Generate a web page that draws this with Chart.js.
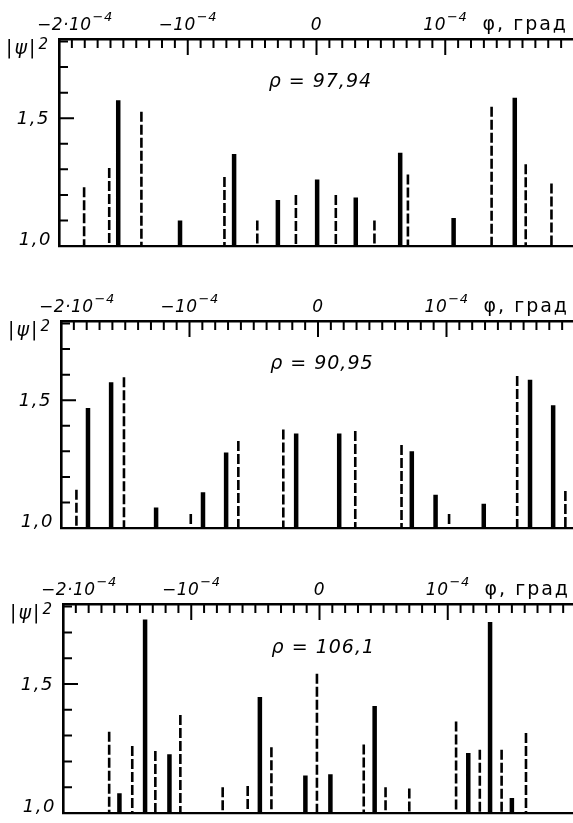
<!DOCTYPE html>
<html>
<head>
<meta charset="utf-8">
<script src="https://cdn.jsdelivr.net/npm/chart.js@4.4.1/dist/chart.umd.min.js"></script>
<style>
  html, body { margin: 0; padding: 0; background: #fff; overflow: hidden; width: 573px; height: 823px; }
  canvas { position: absolute; left: 0; }
</style>
</head>
<body>
<canvas id="c1" width="600" height="275" style="top:0"></canvas>
<canvas id="c2" width="600" height="280" style="top:275px"></canvas>
<canvas id="c3" width="600" height="268" style="top:555px"></canvas>
<script>
// angle in units of 1e-5 degree, intensity |psi|^2
var solid1Pos = [-15.4, -10.6, -6.4, -3.0, 0.05, 3.05, 6.5, 10.65, 15.4];
var solid1Val = [1.57, 1.10, 1.36, 1.18, 1.26, 1.19, 1.365, 1.11, 1.58];
var dash1Pos  = [-18.05, -16.1, -13.6, -7.15, -4.6, -1.6, 1.5, 4.5, 7.1, 13.6, 16.25, 18.25];
var dash1Val  = [1.23, 1.305, 1.525, 1.27, 1.10, 1.20, 1.20, 1.10, 1.28, 1.545, 1.32, 1.245];

var solid2Pos = [-17.9, -16.1, -12.6, -8.95, -7.15, -1.7, 1.65, 7.3, 9.15, 12.9, 16.5, 18.3];
var solid2Val = [1.47, 1.57, 1.08, 1.14, 1.295, 1.37, 1.37, 1.30, 1.13, 1.095, 1.58, 1.48];
var dash2Pos  = [-18.8, -15.1, -9.9, -6.2, -2.7, 2.9, 6.5, 10.2, 15.5, 19.25];
var dash2Val  = [1.15, 1.59, 1.055, 1.34, 1.385, 1.38, 1.325, 1.055, 1.595, 1.145];

var solid3Pos = [-15.6, -13.6, -11.7, -4.65, -1.1, 0.85, 4.3, 11.6, 13.3, 15.0];
var solid3Val = [1.077, 1.75, 1.228, 1.45, 1.145, 1.15, 1.415, 1.233, 1.74, 1.058];
var dash3Pos  = [-16.4, -14.6, -12.8, -10.85, -7.55, -5.6, -3.75, -0.2, 3.45, 5.15, 7.0, 10.65, 12.5, 14.2, 16.1];
var dash3Val  = [1.315, 1.26, 1.24, 1.38, 1.10, 1.105, 1.255, 1.54, 1.265, 1.10, 1.095, 1.355, 1.245, 1.245, 1.31];

var rhoLabels = ['ρ = 97,94', 'ρ = 90,95', 'ρ = 106,1'];

var xLabelValues = [-20, -10, 0, 10];
var xLabelBase   = ['−2·10', '−10', '0', '10'];
var xLabelSup    = ['−4', '−4', '', '−4'];
var yLabelValues = [1.0, 1.5];
var yLabels      = ['1,0', '1,5'];
var xUnit = 'φ, град';
var yTitleBase = '|ψ|', yTitleSup = '2';

var BASE = 1.0;

// each stem goes from the value down to the baseline, then a gap
function stems(pos, val) {
    var pts = [];
    pos.forEach(function(p, i) {
        pts.push({x: p, y: val[i]});
        pts.push({x: p, y: BASE});
        pts.push({x: p, y: null});
    });
    return pts;
}

function supText(ctx, base, sup, x, y, align, size, spacing, raise) {
    var bf = 'italic ' + size + 'px "DejaVu Sans"';
    var sf = 'italic ' + Math.round(size * 0.78) + 'px "DejaVu Sans"';
    ctx.letterSpacing = (spacing || 0) + 'px';
    ctx.font = bf;
    var wb = ctx.measureText(base).width;
    ctx.font = sf;
    var ws = sup ? ctx.measureText(sup).width + 1 : 0;
    var x0 = align === 'left' ? x : (align === 'right' ? x - wb - ws : x - (wb + ws) / 2);
    ctx.textAlign = 'left';
    ctx.textBaseline = 'alphabetic';
    ctx.font = bf;
    ctx.fillText(base, x0, y);
    if (sup) {
        ctx.font = sf;
        ctx.fillText(sup, x0 + wb + 1, y - size * (raise || 0.55));
    }
    ctx.letterSpacing = '0px';
}

var gostAxes = {
    id: 'gostAxes',
    afterDraw: function(chart, args, opts) {
        var ctx = chart.ctx, a = chart.chartArea;
        var x = chart.scales.x, y = chart.scales.y;
        ctx.save();
        ctx.strokeStyle = '#000';
        ctx.fillStyle = '#000';

        // tick marks point into the plot
        ctx.lineWidth = 2;
        ctx.beginPath();
        x.ticks.forEach(function(t) {
            if (t.value <= x.min) return;
            var px = x.getPixelForValue(t.value);
            var len = (t.value % 10 === 0) ? 16 : 9;
            ctx.moveTo(px, a.top);
            ctx.lineTo(px, a.top + len);
        });
        y.ticks.forEach(function(t) {
            if (t.value <= y.min + 1e-9) return;
            var py = y.getPixelForValue(t.value);
            var len = (Math.abs(t.value - 1.5) < 1e-9) ? 15 : 9;
            ctx.moveTo(a.left, py);
            ctx.lineTo(a.left + len, py);
        });
        ctx.stroke();

        // top tick labels
        xLabelValues.forEach(function(v, i) {
            var px = x.getPixelForValue(v);
            if (i === 0) {
                supText(ctx, xLabelBase[i], xLabelSup[i], a.left - 22, a.top - 9, 'left', 17, 0.5);
            } else {
                supText(ctx, xLabelBase[i], xLabelSup[i], px, a.top - 9, 'center', 17, 0.5);
            }
        });
        ctx.font = '19px "DejaVu Sans"';
        ctx.letterSpacing = '2px';
        ctx.textAlign = 'right';
        ctx.textBaseline = 'alphabetic';
        ctx.fillText(xUnit, a.right - 6, a.top - 9);
        ctx.letterSpacing = '0px';

        // left tick labels
        yLabelValues.forEach(function(v, i) {
            var py = y.getPixelForValue(v);
            var dy = (v === BASE) ? -1 : 6;
            var dx = (v === BASE) ? 7 : 9;
            ctx.font = 'italic 18px "DejaVu Sans"';
            ctx.letterSpacing = '1.5px';
            ctx.textAlign = 'right';
            ctx.textBaseline = 'alphabetic';
            ctx.fillText(yLabels[i], a.left - dx, py + dy);
            ctx.letterSpacing = '0px';
        });

        // axis title
        supText(ctx, yTitleBase, yTitleSup, a.left - 9, a.top + 15, 'right', 19, 2, 0.28);

        // parameter label
        ctx.font = 'italic 19px "DejaVu Sans"';
        ctx.letterSpacing = '1px';
        ctx.textAlign = 'center';
        ctx.textBaseline = 'middle';
        ctx.fillText(opts.rho, x.getPixelForValue(0.3), y.getPixelForValue(1.64));
        ctx.letterSpacing = '0px';
        ctx.restore();
    }
};

function makePanel(id, pad, solidPos, solidVal, dashPos, dashVal, rho) {
    var ctx = document.getElementById(id).getContext('2d');
    return new Chart(ctx, {
        type: 'line',
        data: {
            datasets: [
                {
                    label: 'solid',
                    data: stems(solidPos, solidVal),
                    xAxisID: 'x', yAxisID: 'y',
                    borderColor: '#000',
                    borderWidth: 4.5,
                    borderCapStyle: 'butt',
                    pointRadius: 0,
                    spanGaps: false
                },
                {
                    label: 'dashed',
                    data: stems(dashPos, dashVal),
                    xAxisID: 'x', yAxisID: 'y',
                    borderColor: '#000',
                    borderWidth: 2.6,
                    borderDash: [10, 3],
                    borderCapStyle: 'butt',
                    pointRadius: 0,
                    spanGaps: false
                }
            ]
        },
        options: {
            responsive: false,
            animation: false,
            events: [],
            layout: { padding: pad },
            plugins: {
                legend: { display: false },
                tooltip: { enabled: false },
                gostAxes: { rho: rho }
            },
            scales: {
                x: {
                    type: 'linear', axis: 'x', position: 'top',
                    min: -20, max: 20,
                    afterBuildTicks: function(s) {
                        var t = [];
                        for (var v = -20; v <= 20; v++) t.push({value: v});
                        s.ticks = t;
                    },
                    grid: { display: false, drawTicks: false },
                    ticks: { display: false },
                    border: { display: true, width: 2.6, color: '#000' }
                },
                xb: {
                    type: 'linear', axis: 'x', position: 'bottom',
                    min: -20, max: 20,
                    grid: { display: false, drawTicks: false },
                    ticks: { display: false },
                    border: { display: true, width: 2.2, color: '#000' }
                },
                y: {
                    type: 'linear', axis: 'y', position: 'left',
                    min: 1.0, max: 1.81,
                    afterBuildTicks: function(s) {
                        var t = [];
                        for (var k = 0; k <= 8; k++) t.push({value: 1 + k / 10});
                        s.ticks = t;
                    },
                    grid: { display: false, drawTicks: false },
                    ticks: { display: false },
                    border: { display: true, width: 2.6, color: '#000' }
                }
            }
        },
        plugins: [gostAxes]
    });
}

makePanel('c1', {left: 59, right: 26, top: 39, bottom: 29}, solid1Pos, solid1Val, dash1Pos, dash1Val, rhoLabels[0]);
makePanel('c2', {left: 61, right: 25, top: 46, bottom: 27}, solid2Pos, solid2Val, dash2Pos, dash2Val, rhoLabels[1]);
makePanel('c3', {left: 63, right: 24, top: 49, bottom: 10}, solid3Pos, solid3Val, dash3Pos, dash3Val, rhoLabels[2]);
</script>
</body>
</html>
